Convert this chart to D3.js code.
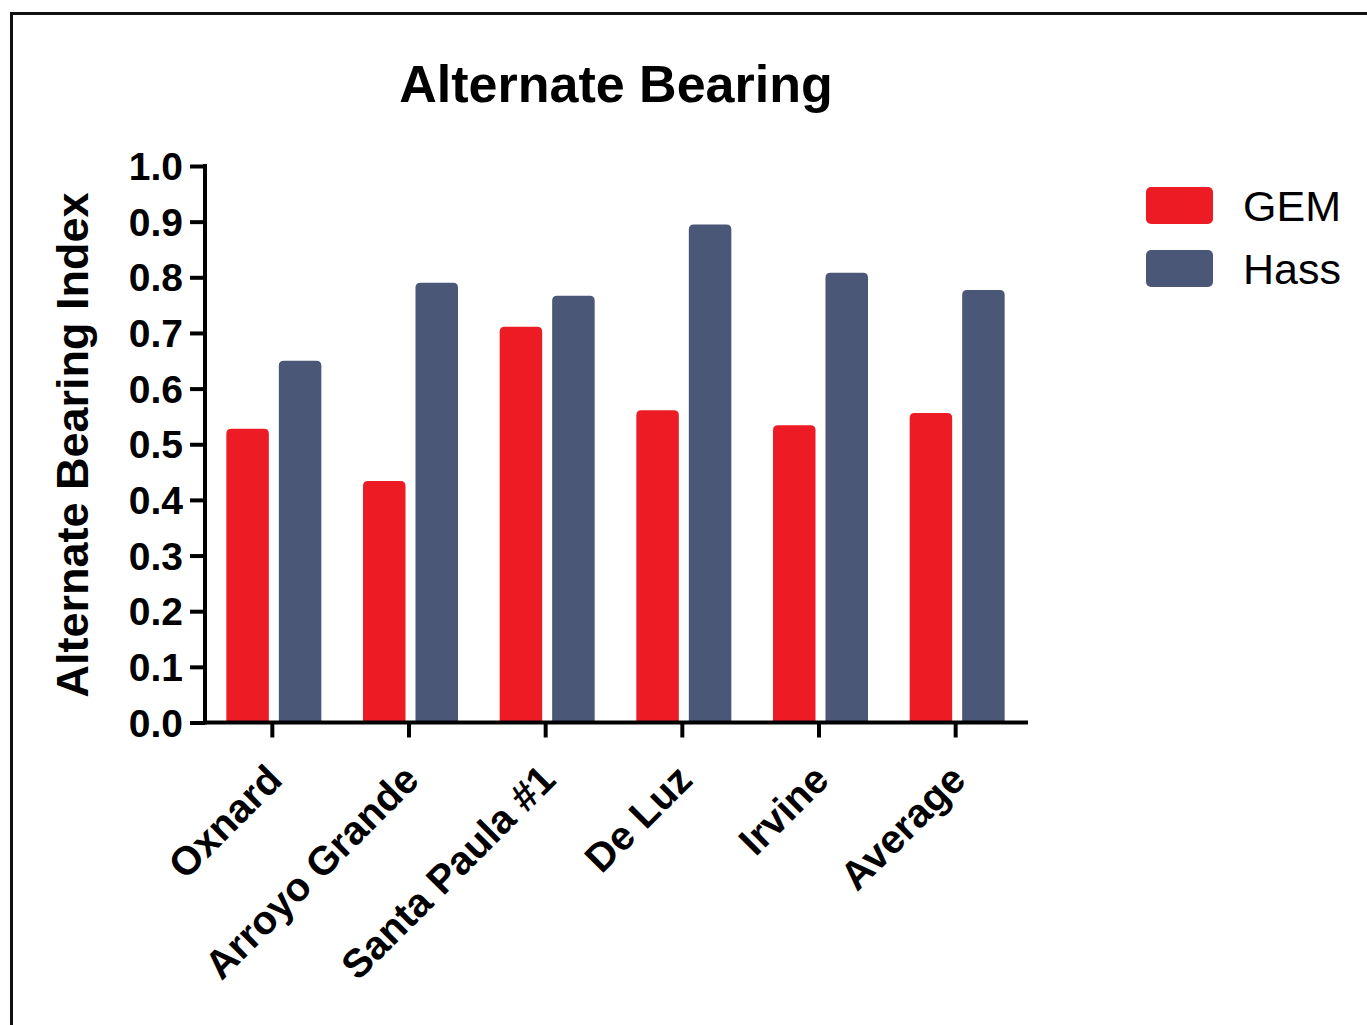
<!DOCTYPE html>
<html>
<head>
<meta charset="utf-8">
<script src="https://cdn.jsdelivr.net/npm/d3@7"></script>
<style>
  html, body { margin: 0; padding: 0; background: #fff; }
  svg { display: block; }
  text { font-family: "Liberation Sans", Arial, Helvetica, sans-serif; fill: #000; }
</style>
</head>
<body>
<svg id="chart" width="1367" height="1025"></svg>
<script>
// ---- data ----
const categories = ["Oxnard", "Arroyo Grande", "Santa Paula #1", "De Luz", "Irvine", "Average"];
const seriesNames = ["GEM", "Hass"];
const gemValues = [0.528, 0.434, 0.711, 0.561, 0.534, 0.556];
const hassValues = [0.650, 0.790, 0.767, 0.895, 0.808, 0.777];
const yTicks = [0.0, 0.1, 0.2, 0.3, 0.4, 0.5, 0.6, 0.7, 0.8, 0.9, 1.0];
const seriesColors = ["#ed1c24", "#4a5777"];
const titleText = "Alternate Bearing";
const yLabelText = "Alternate Bearing Index";

const seriesValues = [gemValues, hassValues];
const rows = categories.map((c, i) => ({
  category: c,
  values: seriesNames.map((s, j) => ({ series: s, value: seriesValues[j][i], color: seriesColors[j] }))
}));

const svg = d3.select("#chart");

// frame (only left and top visible)
svg.append("rect")
  .attr("x", 11.5).attr("y", 13.5)
  .attr("width", 1400).attr("height", 1100)
  .attr("fill", "none").attr("stroke", "#111").attr("stroke-width", 3);

const x0 = d3.scaleBand().domain(categories).range([204, 1024]).paddingInner(0).paddingOuter(0);
const x1 = d3.scaleBand().domain(seriesNames).range([-46, 49]).paddingInner(0.19).paddingOuter(0);
const y = d3.scaleLinear().domain([0, 1]).range([722.5, 166]);

// bars with rounded top corners
function barPath(xl, w, yTop, yBase, r) {
  r = Math.min(r, w / 2, (yBase - yTop));
  return `M${xl},${yBase}V${yTop + r}Q${xl},${yTop} ${xl + r},${yTop}H${xl + w - r}Q${xl + w},${yTop} ${xl + w},${yTop + r}V${yBase}Z`;
}

const groups = svg.append("g").selectAll("g").data(rows).join("g")
  .attr("transform", d => `translate(${x0(d.category) + x0.bandwidth() / 2},0)`);
groups.selectAll("path").data(d => d.values).join("path")
  .attr("d", d => barPath(x1(d.series), x1.bandwidth(), y(d.value), y(0), 5))
  .attr("fill", d => d.color);

// Y axis
const yAxis = d3.axisLeft(y).tickValues(yTicks).tickFormat(d3.format(".1f")).tickSize(15).tickSizeOuter(0).tickPadding(7);
const gy = svg.append("g").attr("transform", "translate(205,0)").call(yAxis);
gy.select(".domain").remove();
gy.append("line").attr("x1", 0).attr("x2", 0).attr("y1", y(1) - 2).attr("y2", y(0) + 2)
  .attr("stroke", "#000").attr("stroke-width", 4);
gy.selectAll(".tick line").attr("stroke", "#000").attr("stroke-width", 4);
gy.selectAll(".tick text").attr("font-size", 39).attr("font-weight", "bold").attr("dy", "0.35em")
  .style("font-family", "'Liberation Sans', Arial, sans-serif").attr("fill", "#000");

// X axis
const xAxis = d3.axisBottom(x0).tickSize(15).tickSizeOuter(0).tickFormat("");
const gx = svg.append("g").attr("transform", `translate(0,${y(0)})`).call(xAxis);
gx.select(".domain").remove();
gx.append("line").attr("x1", 203).attr("x2", 1028).attr("y1", 0).attr("y2", 0)
  .attr("stroke", "#000").attr("stroke-width", 4);
gx.selectAll(".tick line").attr("stroke", "#000").attr("stroke-width", 4);

// rotated category labels
svg.append("g").selectAll("text").data(categories).join("text")
  .attr("transform", d => `translate(${x0(d) + x0.bandwidth() / 2 + 12},782) rotate(-45)`)
  .attr("text-anchor", "end")
  .attr("font-size", 40).attr("font-weight", "bold")
  .text(d => d);

// title
svg.append("text").attr("x", 616).attr("y", 102).attr("text-anchor", "middle")
  .attr("font-size", 52).attr("font-weight", "bold").text(titleText);

// y label
svg.append("text").attr("transform", "translate(88,445) rotate(-90)")
  .attr("text-anchor", "middle").attr("font-size", 45).attr("font-weight", "bold").text(yLabelText);

// legend
const legend = svg.append("g").selectAll("g").data(seriesNames).join("g")
  .attr("transform", (d, i) => `translate(1146,${187 + i * 63})`);
legend.append("rect").attr("width", 67).attr("height", 37).attr("rx", 5)
  .attr("fill", (d, i) => seriesColors[i]);
legend.append("text").attr("x", 97).attr("y", 34).attr("font-size", 43).text(d => d);
</script>
</body>
</html>
